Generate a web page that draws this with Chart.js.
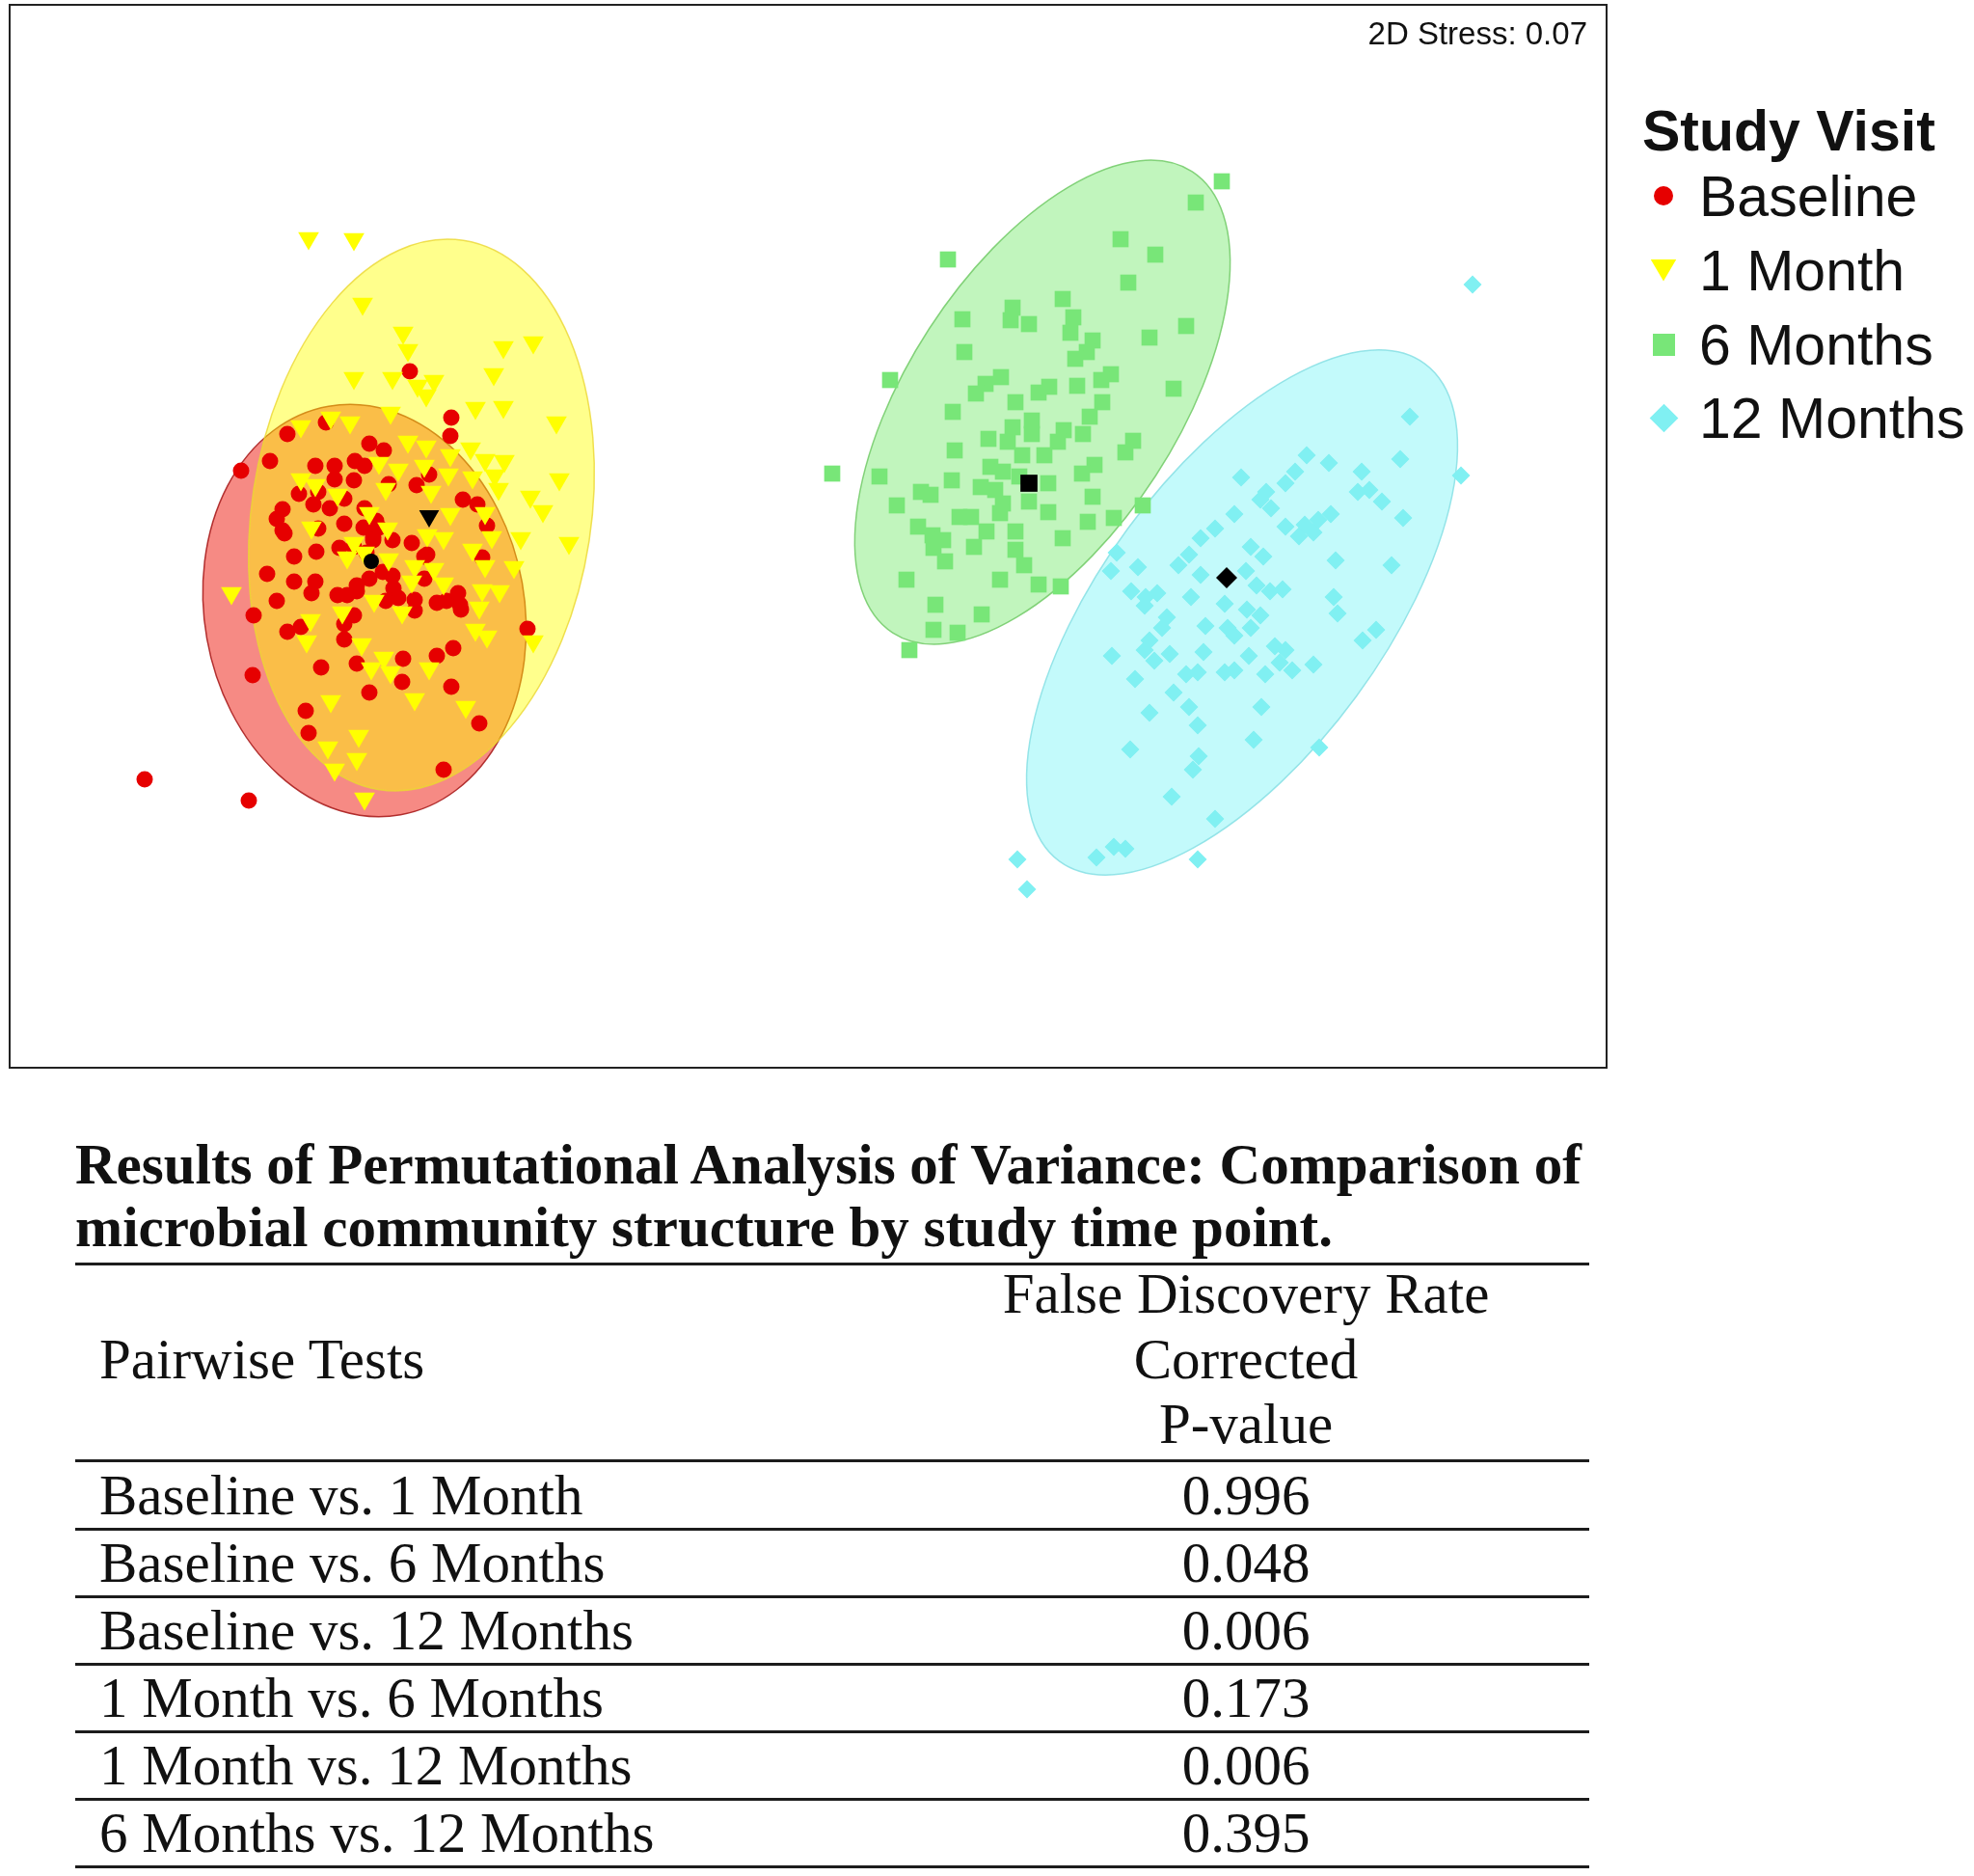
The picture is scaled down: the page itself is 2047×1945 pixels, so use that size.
<!DOCTYPE html>
<html>
<head>
<meta charset="utf-8">
<script src="https://cdn.jsdelivr.net/npm/chart.js@4.4.0/dist/chart.umd.min.js"></script>
<style>
  body { margin: 0; background: #fff; }
  #page { position: relative; width: 2047px; height: 1945px; overflow: hidden; background: #fff; }
  #plot { position: absolute; left: 0; top: 0; }
  .sans { font-family: "Liberation Sans", Arial, sans-serif; color: #111; }
  .serif { font-family: "Liberation Serif", "Times New Roman", serif; color: #111; font-size: 59px; }
  .abs { position: absolute; white-space: nowrap; }
  .rule { position: absolute; left: 78px; width: 1570px; height: 3px; background: #1c1c1c; }
  .mark { position: absolute; }
</style>
</head>
<body>
<div id="page">
  <canvas id="plot" width="2047" height="1140"></canvas>
  <div id="stress" class="abs sans" style="right:401px; top:18px; font-size:33px; line-height:33px;"></div>
  <div id="legend"></div>
  <div id="table"></div>
</div>

<script>
"use strict";

// ---- data (nMDS coordinates) ----
var groupNames = ["Baseline", "1 Month", "6 Months", "12 Months"];

var baselinePts = [
  [-4.13,1.71],[-3.70,1.23],[-3.71,1.04],[-5.40,1.06],[-5.00,1.18],[-5.88,0.68],[-5.58,0.78],[-5.11,0.73],
  [-4.55,0.96],[-4.40,0.89],[-4.70,0.78],[-4.60,0.73],[-4.91,0.59],[-4.35,0.54],[-4.06,0.53],[-3.93,0.64],
  [-5.28,0.44],[-5.13,0.33],[-4.81,0.39],[-3.58,0.38],[-3.43,0.33],[-5.45,0.28],[-5.51,0.18],[-4.60,0.29],
  [-3.33,0.11],[-4.81,0.13],[-4.48,0.16],
  [-5.43,0.03],[-5.08,0.08],[-5.33,-0.21],[-5.10,-0.16],[-4.86,-0.12],[-4.51,-0.04],[-4.11,-0.07],[-3.95,-0.19],
  [-3.38,-0.22],[-5.61,-0.39],[-5.33,-0.47],[-5.15,-0.59],[-5.51,-0.67],[-5.75,-0.82],[-4.88,-0.61],[-4.68,-0.57],
  [-4.55,-0.44],[-4.41,-0.37],[-4.30,-0.54],[-4.25,-0.64],[-4.08,-0.66],[-4.08,-0.77],[-3.98,-0.44],[-3.85,-0.69],
  [-3.75,-0.67],[-3.63,-0.59],[-3.60,-0.76],[-4.71,-0.82],[-4.81,-0.91],[-5.40,-0.99],[-5.26,-0.94],[-4.81,-1.07],
  [-5.05,-1.36],[-4.68,-1.32],[-4.20,-1.27],[-3.85,-1.24],[-3.68,-1.16],[-5.76,-1.44],[-4.55,-1.62],[-4.21,-1.51],
  [-3.70,-1.56],[-2.91,-0.96],[-5.21,-1.81],[-5.18,-2.04],[-3.41,-1.94],[-3.78,-2.42],[-6.88,-2.52],[-5.80,-2.74],
  [-4.51,-0.01],[-4.45,0.09],[-4.31,-0.41],[-4.68,-0.51],[-4.38,-0.67],[-3.98,-0.21],[-3.61,-0.71],[-4.78,-0.61],
  [-5.11,-0.47],[-5.45,0.06],[-4.96,0.29],[-4.61,0.09],[-4.71,0.58],[-4.91,0.73],[-5.08,0.46],[-4.71,-0.11],
  [-4.58,-0.17],[-4.31,-0.04]
];

var month1Pts = [
  [-5.18,3.09],[-4.71,3.08],[-4.62,2.41],[-4.20,2.11],[-4.15,1.93],[-3.16,1.96],[-2.85,2.01],[-4.71,1.64],
  [-4.31,1.64],[-4.05,1.56],[-3.88,1.61],[-3.96,1.46],[-3.26,1.68],[-4.33,1.28],[-3.45,1.33],[-3.16,1.34],
  [-2.61,1.18],[-5.26,1.14],[-4.95,1.23],[-4.75,1.18],[-4.15,0.98],[-3.96,0.93],[-3.71,0.84],[-3.50,0.91],
  [-3.35,0.79],[-3.15,0.78],[-4.25,0.69],[-3.98,0.73],[-3.73,0.64],[-3.48,0.61],[-3.25,0.63],[-2.58,0.59],
  [-5.26,0.59],[-5.11,0.53],[-4.38,0.49],[-3.91,0.46],[-3.21,0.49],[-2.88,0.41],[-2.75,0.26],[-4.88,0.43],
  [-3.71,0.23],[-3.35,0.24],[-4.55,0.24],
  [-4.36,0.08],[-3.95,0.01],[-3.78,-0.02],[-3.48,-0.14],[-3.28,-0.01],[-2.98,-0.02],[-2.48,-0.07],[-4.78,-0.22],
  [-4.60,-0.17],[-4.35,-0.24],[-4.08,-0.31],[-3.88,-0.34],[-3.35,-0.31],[-3.05,-0.32],[-4.11,-0.47],[-3.78,-0.49],
  [-5.98,-0.59],[-4.50,-0.67],[-4.21,-0.79],[-3.38,-0.56],[-3.20,-0.57],[-3.41,-0.74],[-4.83,-0.79],[-5.16,-0.87],
  [-5.20,-1.09],[-4.63,-1.12],[-3.45,-0.97],[-3.33,-1.04],[-2.85,-1.09],[-4.40,-1.26],[-4.53,-1.37],[-4.33,-1.41],
  [-3.93,-1.37],[-4.95,-1.71],[-4.08,-1.69],[-3.55,-1.77],[-4.66,-2.07],[-4.98,-2.19],[-4.68,-2.31],[-4.91,-2.42],
  [-4.60,-2.72],[-4.45,0.76],[-5.15,0.09],[-4.71,-0.07]
];

var month6Pts = [
  [4.29,3.68],[4.02,3.46],[3.24,3.08],[3.60,2.92],[1.45,2.87],[3.32,2.63],[2.64,2.46],[2.12,2.37],
  [1.60,2.25],[2.10,2.24],[2.29,2.20],[2.75,2.27],[2.72,2.11],[3.92,2.18],[3.54,2.06],[2.95,2.03],
  [1.62,1.91],[2.89,1.91],[2.77,1.84],[0.85,1.62],[2.00,1.65],[1.84,1.58],[1.74,1.48],[2.39,1.49],
  [2.50,1.55],[2.79,1.56],[3.14,1.68],[3.04,1.62],[3.79,1.53],[2.15,1.39],[3.05,1.39],[1.50,1.29],
  [2.32,1.20],[2.92,1.24],[2.12,1.13],[2.32,1.06],[2.65,1.10],[2.85,1.06],[1.87,1.01],[2.07,0.98],
  [2.59,0.98],[3.37,0.99],[3.29,0.87],[1.52,0.89],[2.22,0.84],[2.45,0.84],[1.89,0.72],[2.02,0.67],
  [2.19,0.62],[2.97,0.74],[2.84,0.65],[0.25,0.65],[0.74,0.62],[1.49,0.58],[1.79,0.51],[1.94,0.48],
  [2.49,0.55],[1.17,0.46],[1.27,0.43],[2.02,0.34],[2.29,0.36],[2.95,0.41],[0.92,0.32],[3.47,0.32],
  [1.57,0.20],[1.69,0.20],[1.99,0.24],[2.49,0.25],[2.90,0.15],[3.17,0.19],[1.14,0.10],[1.29,0.01],
  [1.40,-0.04],[1.85,0.05],[2.15,0.05],[1.72,-0.11],[2.64,-0.02],[1.30,-0.12],[1.42,-0.26],[2.15,-0.14],
  [2.24,-0.30],[1.02,-0.45],[1.99,-0.45],[2.39,-0.50],[2.62,-0.52],[1.32,-0.71],[1.80,-0.81],[1.30,-0.97],
  [1.55,-1.00],[1.05,-1.18]
];

var month12Pts = [
  [6.89,2.61],[6.24,1.24],[6.14,0.80],[6.77,0.63],[5.17,0.84],[5.40,0.76],[4.49,0.61],[5.05,0.67],
  [4.95,0.55],[5.74,0.67],[5.70,0.46],[5.82,0.48],[5.95,0.36],[6.17,0.19],[4.75,0.46],[4.69,0.38],
  [4.80,0.29],[4.42,0.23],[5.42,0.23],[5.29,0.17],[5.15,0.12],[4.95,0.10],[5.09,0.00],[5.24,0.04],
  [4.22,0.08],[4.07,-0.02],[6.05,-0.30],[5.47,-0.25],[4.59,-0.11],[4.72,-0.21],[4.54,-0.36],[3.95,-0.19],
  [3.84,-0.30],[4.07,-0.40],[3.42,-0.32],[3.20,-0.17],[3.14,-0.36],[3.35,-0.57],[3.50,-0.63],[3.62,-0.59],
  [3.97,-0.63],[4.65,-0.51],[4.79,-0.57],[4.92,-0.55],[5.45,-0.63],[5.49,-0.80],[3.49,-0.72],[4.32,-0.70],
  [4.55,-0.76],[4.69,-0.82],[3.72,-0.84],[3.67,-0.95],[4.12,-0.93],[4.35,-0.95],[4.59,-0.95],[5.89,-0.97],
  [5.75,-1.08],[3.54,-1.08],[4.42,-1.03],[3.15,-1.24],[3.49,-1.18],[3.59,-1.29],[3.75,-1.22],[4.10,-1.20],
  [4.57,-1.24],[4.84,-1.14],[4.95,-1.18],[4.89,-1.31],[5.02,-1.39],[5.24,-1.33],[3.39,-1.48],[3.92,-1.43],
  [4.04,-1.41],[4.32,-1.41],[4.42,-1.39],[4.74,-1.43],[3.79,-1.62],[3.95,-1.77],[3.54,-1.83],[4.70,-1.77],
  [4.04,-1.96],[4.62,-2.11],[3.34,-2.21],[5.30,-2.19],[4.05,-2.28],[3.99,-2.42],[3.77,-2.70],[4.22,-2.93],
  [2.99,-3.33],[3.17,-3.22],[3.29,-3.24],[4.04,-3.35],[2.17,-3.35],[2.27,-3.66]
];

// group centroids (black symbols)
var centroidPts = [[-4.53,-0.26],[-3.93,0.21],[2.29,0.55],[4.34,-0.43]];

// ellipses: centre x, centre y, semi-major, semi-minor, angle of major axis (deg)
var baselineEllipse = [-4.60, -0.77, 2.15, 1.66, 100];
var month1Ellipse   = [-4.01,  0.22, 2.88, 1.76, 81.3];
var month6Ellipse   = [ 2.43,  1.39, 2.85, 1.40, 57];
var month12Ellipse  = [ 4.50, -0.79, 3.20, 1.47, 53.7];

var stressText = "2D Stress: 0.07";

var tableTitle = ["Results of Permutational Analysis of Variance: Comparison of",
                  "microbial community structure by study time point."];
var colHeads = ["Pairwise Tests", "False Discovery Rate", "Corrected", "P-value"];
var pairTests = ["Baseline vs. 1 Month", "Baseline vs. 6 Months", "Baseline vs. 12 Months",
                 "1 Month vs. 6 Months", "1 Month vs. 12 Months", "6 Months vs. 12 Months"];
var pValues = ["0.996", "0.048", "0.006", "0.173", "0.006", "0.395"];

// ---- styles ----
var pointColors = ["#e60000", "#ffff00", "#78e678", "#80f0f2"];
var pointShapes = ["circle", "triangle", "rect", "rectRot"];
var pointSizes = [8.5, 12.5, 11.8, 9.5];
var pointRot = [0, 180, 0, 0];
var centroidSizes = [8, 12, 12.5, 11];
var ellipseFills = ["rgba(240,60,50,0.6)", "rgba(255,255,0,0.45)", "rgba(100,230,90,0.4)", "rgba(170,248,250,0.7)"];
var ellipseLines = ["rgba(170,30,30,0.9)", "rgba(235,215,50,0.8)", "rgba(120,205,110,0.9)", "rgba(140,225,230,0.9)"];

var ellipses = [baselineEllipse, month1Ellipse, month6Ellipse, month12Ellipse];
var groups = [baselinePts, month1Pts, month6Pts, month12Pts];

function toXY(list) {
  return list.map(function(p) { return { x: p[0], y: p[1] }; });
}

// ellipses go under the points, box goes on top
var ordiPlugin = {
  id: "ordiEllipses",
  beforeDatasetsDraw: function(chart) {
    var ctx = chart.ctx, xs = chart.scales.x, ys = chart.scales.y, a = chart.chartArea;
    ctx.save();
    ctx.beginPath();
    ctx.rect(a.left, a.top, a.right - a.left, a.bottom - a.top);
    ctx.clip();
    ellipses.forEach(function(e, i) {
      var cx = xs.getPixelForValue(e[0]), cy = ys.getPixelForValue(e[1]);
      var rx = Math.abs(xs.getPixelForValue(e[0] + e[2]) - cx);
      var ry = Math.abs(xs.getPixelForValue(e[0] + e[3]) - cx);
      ctx.beginPath();
      ctx.ellipse(cx, cy, rx, ry, -e[4] * Math.PI / 180, 0, Math.PI * 2);
      ctx.fillStyle = ellipseFills[i];
      ctx.fill();
      ctx.lineWidth = 1.5;
      ctx.strokeStyle = ellipseLines[i];
      ctx.stroke();
    });
    ctx.restore();
  },
  afterDraw: function(chart) {
    var ctx = chart.ctx, a = chart.chartArea;
    ctx.save();
    ctx.lineWidth = 2;
    ctx.strokeStyle = "#222";
    ctx.strokeRect(a.left, a.top, a.right - a.left, a.bottom - a.top);
    ctx.restore();
  }
};

var datasets = groups.map(function(g, i) {
  return {
    label: groupNames[i],
    data: toXY(g),
    pointStyle: pointShapes[i],
    pointRadius: pointSizes[i],
    pointRotation: pointRot[i],
    backgroundColor: pointColors[i],
    borderColor: pointColors[i],
    borderWidth: 0,
    order: 4 - i
  };
});
// yellow triangles sit over the red dots
datasets[0].order = 5;
datasets.push({
  label: "centroids",
  data: toXY(centroidPts),
  pointStyle: pointShapes,
  pointRadius: centroidSizes,
  pointRotation: pointRot,
  backgroundColor: "#000",
  borderColor: "#000",
  borderWidth: 0,
  order: 0
});

new Chart(document.getElementById("plot"), {
  type: "scatter",
  data: { datasets: datasets },
  options: {
    responsive: false,
    animation: false,
    events: [],
    layout: { autoPadding: false, padding: { left: 10, top: 5, right: 381, bottom: 33 } },
    scales: {
      x: { type: "linear", min: -8.28, max: 8.28, display: false },
      y: { type: "linear", min: -5.51, max: 5.51, display: false }
    },
    plugins: { legend: { display: false }, tooltip: { enabled: false } }
  },
  plugins: [ordiPlugin]
});

// ---- stress label + legend ----
document.getElementById("stress").textContent = stressText;

var legend = document.getElementById("legend");
var lt = document.createElement("div");
lt.className = "abs sans";
lt.style.cssText = "left:1703px; top:107px; font-size:59px; line-height:59px; font-weight:bold;";
lt.textContent = "Study Visit";
legend.appendChild(lt);

var legendBase = [225, 302, 379, 455];
var markCss = [
  "width:20px;height:20px;border-radius:50%;",
  "width:27px;height:23px;clip-path:polygon(0 0,100% 0,50% 100%);",
  "width:23px;height:23px;",
  "width:21px;height:21px;transform:rotate(45deg);"
];
groupNames.forEach(function(name, i) {
  var t = document.createElement("div");
  t.className = "abs sans";
  t.style.cssText = "left:1762px; top:" + (legendBase[i] - 50) + "px; font-size:59px; line-height:59px;";
  t.textContent = name;
  legend.appendChild(t);
  var m = document.createElement("div");
  m.className = "mark";
  m.style.cssText = markCss[i] + "background:" + pointColors[i] + ";";
  var w = parseFloat(m.style.width), h = parseFloat(m.style.height);
  m.style.left = (1725 - w / 2) + "px";
  m.style.top = (legendBase[i] - 22 - h / 2) + "px";
  legend.appendChild(m);
});

// ---- PERMANOVA table ----
var tbl = document.getElementById("table");
function put(html, css, cls) {
  var d = document.createElement("div");
  d.className = cls || "abs serif";
  d.style.cssText = css;
  d.innerHTML = html;
  tbl.appendChild(d);
  return d;
}
function rule(top) { put("", "top:" + top + "px;", "rule"); }

put(tableTitle[0] + "<br>" + tableTitle[1], "left:78px; top:1175px; line-height:65px; font-weight:bold;");
rule(1309);
put(colHeads[0], "left:103px; top:1376px; line-height:67.5px;");
put(colHeads.slice(1).join("<br>"), "left:992px; width:600px; text-align:center; top:1308px; line-height:67.5px;");
rule(1513);
pairTests.forEach(function(t, i) {
  var top = 1515 + 70 * i;
  put(t, "left:103px; top:" + top + "px; line-height:70px;");
  put(pValues[i], "left:1092px; width:400px; text-align:center; top:" + top + "px; line-height:70px;");
  rule(1584 + 70 * i);
});
</script>
</body>
</html>
